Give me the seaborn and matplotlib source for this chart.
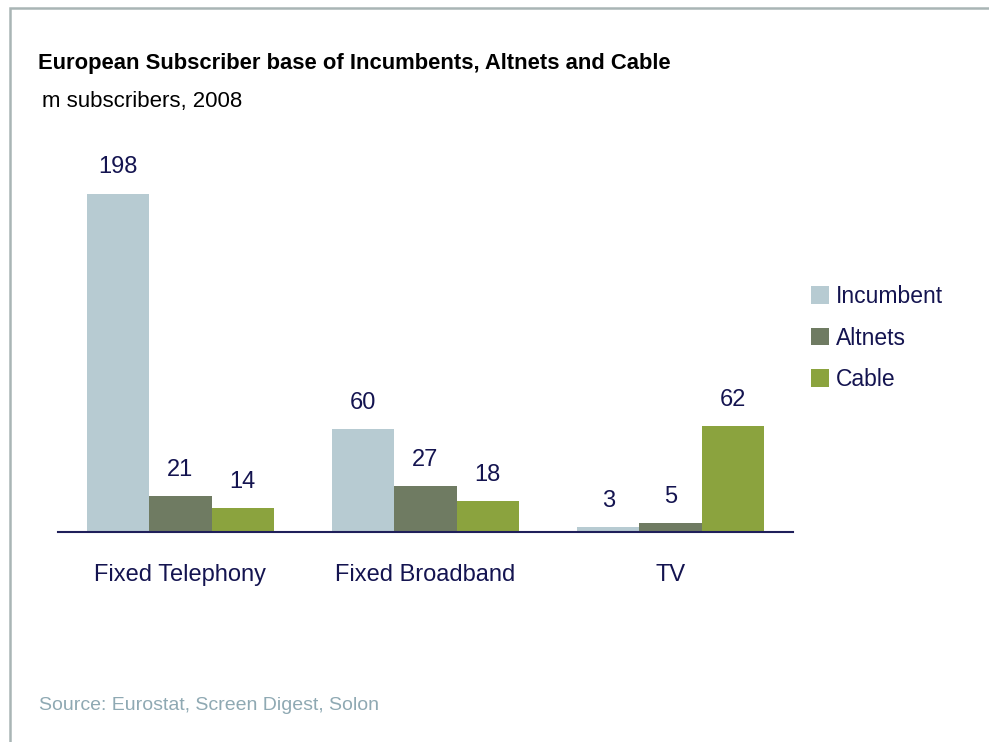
import matplotlib
matplotlib.use("Agg")
import matplotlib.pyplot as plt
import seaborn as sns
import pandas as pd
from matplotlib.patches import Rectangle

categories = ["Fixed Telephony", "Fixed Broadband", "TV"]
series = ["Incumbent", "Altnets", "Cable"]
incumbent = [198, 60, 3]
altnets = [21, 27, 5]
cable = [14, 18, 62]
colors = ["#B7CBD2", "#6F7B62", "#8BA33E"]

rows = []
for s, vals in zip(series, [incumbent, altnets, cable]):
    for c, v in zip(categories, vals):
        rows.append({"category": c, "series": s, "value": v})
df = pd.DataFrame(rows)

sns.set_theme(style="white")
FONT = ["Liberation Sans Narrow", "Liberation Sans", "DejaVu Sans"]
plt.rcParams["font.family"] = FONT
NAVY = "#141450"

fig = plt.figure(figsize=(9.89, 7.42), dpi=100)
ax = fig.add_axes([58 / 989, 1 - 532 / 742, 735 / 989, 359 / 742])

sns.barplot(data=df, x="category", y="value", hue="series", order=categories,
            hue_order=series, palette=colors, width=0.76, saturation=1,
            linewidth=0, edgecolor="none", ax=ax, legend=True)

ax.set_xlim(-0.5, 2.5)
ax.set_ylim(0, 210)
for sp in ["top", "right", "left"]:
    ax.spines[sp].set_visible(False)
ax.spines["bottom"].set_color("#1F1F5A")
ax.spines["bottom"].set_linewidth(1.5)
ax.set_yticks([])
ax.set_xlabel("")
ax.set_ylabel("")
ax.tick_params(axis="x", length=0, pad=23, labelsize=17, labelcolor=NAVY)

for cont in ax.containers:
    ax.bar_label(cont, labels=[f"{int(v)}" for v in cont.datavalues],
                 padding=11, fontsize=17, color=NAVY)

handles, labels = ax.get_legend_handles_labels()
ax.legend_.remove()
fig.legend(handles, labels, loc="center left", bbox_to_anchor=(790 / 989, 1 - 338 / 742),
           frameon=False, fontsize=16.5, labelcolor=NAVY, handlelength=0.8,
           handleheight=0.8, handletextpad=0.3, labelspacing=0.8)

fig.text(38 / 989, 1 - 63 / 742, "European Subscriber base of Incumbents, Altnets and Cable",
         fontsize=15.8, fontweight="bold", color="black", va="center", ha="left")
fig.text(42 / 989, 1 - 102 / 742, "m subscribers, 2008",
         fontsize=16, color="black", va="center", ha="left")
fig.text(39 / 989, 1 - 706 / 742, "Source: Eurostat, Screen Digest, Solon",
         fontsize=14, color="#8FA9B3", va="center", ha="left")

fig.patches.append(Rectangle((10 / 989, -0.1), 1.2, 1.1 - 8 / 742, transform=fig.transFigure,
                             fill=False, edgecolor="#A9B5B5", linewidth=1.8))

fig.savefig("out.png", dpi=100)
